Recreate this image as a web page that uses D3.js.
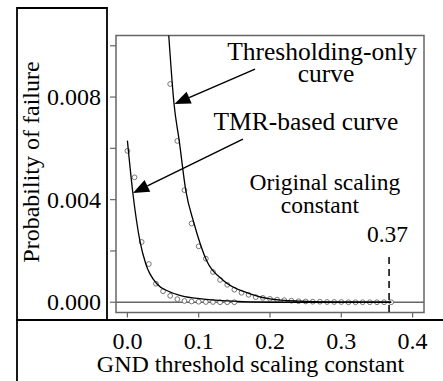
<!DOCTYPE html>
<html>
<head>
<meta charset="utf-8">
<script src="https://cdn.jsdelivr.net/npm/d3@7"></script>
<style>
  #chart text { font-family: "Liberation Serif", "Times New Roman", Times, serif !important; }
</style>
</head>
<body style="margin:0">
<svg id="chart" width="443" height="381"></svg>
<script>
// TMR-based points
const tmrX = [0.00, 0.01, 0.02, 0.03, 0.04, 0.05, 0.06, 0.07, 0.08, 0.09, 0.10, 0.11, 0.12, 0.13, 0.14, 0.15];
const tmrY = [0.0059, 0.00487, 0.00235, 0.00149, 0.00072, 0.00043, 0.00025, 0.00012, 0.00005, 0.00003,
  0.00002, 0.00001, 0.00001, 0.0, 0.0, 0.0];

// Thresholding-only points
const thrX = [0.06, 0.07, 0.08, 0.09, 0.10, 0.11, 0.12, 0.13, 0.14, 0.15, 0.16, 0.17, 0.18, 0.19, 0.20,
  0.21, 0.22, 0.23, 0.24, 0.25, 0.26, 0.27, 0.28, 0.29, 0.30, 0.31, 0.32, 0.33, 0.34, 0.35, 0.36, 0.37];
const thrY = [0.00851, 0.00629, 0.00437, 0.00307, 0.00218, 0.0017, 0.00118, 0.00087, 0.00068, 0.00049,
  0.00037, 0.00029, 0.0002, 0.00017, 0.00013, 0.0001, 0.00008, 0.00006, 0.00004, 0.00003, 0.00002,
  0.00002, 0.00001, 0.00001, 0.00001, 0.0, 0.0, 0.0, 0.0, 0.0, 0.0, 0.0];

// fitted curves
const tmrCurveX = [0.0, 0.0076, 0.0178, 0.0258, 0.0412, 0.0575, 0.0762, 0.104, 0.14, 0.2, 0.37];
const tmrCurveY = [0.0063, 0.00427, 0.00235, 0.00149, 0.00072, 0.00043, 0.00025, 0.00013, 0.00005, 0.0, 0.0];
const thrCurveX = [0.058, 0.0654, 0.0727, 0.0818, 0.0935, 0.111, 0.1346, 0.172, 0.2, 0.242, 0.3, 0.37];
const thrCurveY = [0.0104, 0.00773, 0.00629, 0.00437, 0.00307, 0.00163, 0.00085, 0.00033, 0.00013, 0.00004, 0.0, 0.0];

// axis ticks
const xTicks = [0.0, 0.1, 0.2, 0.3, 0.4];
const yTicks = [0.000, 0.002, 0.004, 0.006, 0.008, 0.010];
const yLabels = [0.000, 0.004, 0.008];
const originalConst = 0.367;

let svg = d3.select("#chart");

function label(sel, size) {
  return sel
    .attr("font-family", "Liberation Serif")
    .style("font-family", "'Liberation Serif'")
    .style("font-size", size + "px");
}

let box = { left: 116, top: 35.5, right: 424, bottom: 312.5 };

let x = d3.scaleLinear().domain([-0.016, 0.416]).range([box.left, box.right]);
let y = d3.scaleLinear().domain([-0.0004, 0.0104]).range([box.bottom, box.top]);

// labels first
label(svg.selectAll("text.ylab").data(yLabels).enter().append("text")
  .attr("class", "ylab")
  .attr("x", 101).attr("y", d => y(d) + 8), 24)
  .style("text-anchor", "end")
  .text(d => d3.format(".3f")(d));

label(svg.selectAll("text.xlab").data(xTicks).enter().append("text")
  .attr("class", "xlab")
  .attr("x", d => x(d)).attr("y", 349), 24)
  .style("text-anchor", "middle")
  .text(d => d3.format(".1f")(d));

label(svg.append("text")
  .attr("x", 250.5).attr("y", 372), 24)
  .style("text-anchor", "middle")
  .text("GND threshold scaling constant");

label(svg.append("text")
  .attr("transform", "translate(39,162) rotate(-90)"), 24)
  .style("text-anchor", "middle")
  .text("Probability of failure");

let notes = [
  { t: "Thresholding-only", x: 0.273, y: 0.00944, s: 25.5 },
  { t: "curve", x: 0.2785, y: 0.00858, s: 25.5 },
  { t: "TMR-based curve", x: 0.2504, y: 0.00671, s: 25.5 },
  { t: "Original scaling", x: 0.277, y: 0.00437, s: 23.5 },
  { t: "constant", x: 0.270, y: 0.00348, s: 23.5 },
  { t: "0.37", x: 0.3648, y: 0.00235, s: 23.5 }
];
notes.forEach(function (n) {
  label(svg.append("text")
    .attr("x", x(n.x)).attr("y", y(n.y)), n.s)
    .style("text-anchor", "middle")
    .text(n.t);
});

// outer frame lines
let frame = svg.append("g").attr("stroke", "#000").attr("stroke-width", 1.8).attr("fill", "none");
frame.append("path").attr("d", "M17,381 L17,8 L107,8 L107,320");
frame.append("path").attr("d", "M16,320 L443,320");

// plot box
svg.append("rect")
  .attr("x", box.left).attr("y", box.top)
  .attr("width", box.right - box.left).attr("height", box.bottom - box.top)
  .attr("fill", "none").attr("stroke", "#666").attr("stroke-width", 1.5);

// y ticks
svg.append("g").selectAll("line").data(yTicks).enter().append("line")
  .attr("x1", box.left - 6).attr("x2", box.left)
  .attr("y1", d => y(d)).attr("y2", d => y(d))
  .attr("stroke", "#666").attr("stroke-width", 1.2);

// x ticks
svg.append("g").selectAll("line").data(xTicks).enter().append("line")
  .attr("x1", d => x(d)).attr("x2", d => x(d))
  .attr("y1", box.bottom).attr("y2", box.bottom + 5)
  .attr("stroke", "#666").attr("stroke-width", 1.2);

// zero line
svg.append("line")
  .attr("x1", box.left).attr("x2", box.right)
  .attr("y1", y(0)).attr("y2", y(0))
  .attr("stroke", "#666").attr("stroke-width", 1.5);

// points
function drawPoints(xs, ys) {
  svg.append("g").selectAll("circle").data(xs).enter().append("circle")
    .attr("cx", d => x(d))
    .attr("cy", (d, i) => y(ys[i]))
    .attr("r", 2.4)
    .attr("fill", "#fff")
    .attr("stroke", "#666")
    .attr("stroke-width", 0.9);
}
drawPoints(thrX, thrY);
drawPoints(tmrX, tmrY);

// curves, cut at the top of the box
let line = d3.line().x(d => x(d[0])).y(d => y(d[1])).curve(d3.curveMonotoneX);
[[thrCurveX, thrCurveY], [tmrCurveX, tmrCurveY]].forEach(function (c) {
  svg.append("path")
    .attr("d", line(c[0].map((v, i) => [v, c[1][i]])))
    .attr("fill", "none").attr("stroke", "#000").attr("stroke-width", 1.3);
});

// dashed marker at original constant
svg.append("line")
  .attr("x1", x(originalConst)).attr("x2", x(originalConst))
  .attr("y1", y(0.00176)).attr("y2", box.bottom)
  .attr("stroke", "#000").attr("stroke-width", 1.5)
  .attr("stroke-dasharray", "7,5");

// arrows: shaft plus a filled head
let arrows = [
  { from: [0.179, 0.00909], to: [0.066, 0.00773] },
  { from: [0.162, 0.00636], to: [0.0079, 0.00426] }
];
arrows.forEach(function (a) {
  let x1 = x(a.from[0]), y1 = y(a.from[1]), x2 = x(a.to[0]), y2 = y(a.to[1]);
  let ang = Math.atan2(y2 - y1, x2 - x1);
  let len = 16, half = 6.5;
  let bx = x2 - len * Math.cos(ang), by = y2 - len * Math.sin(ang);
  svg.append("line")
    .attr("x1", x1).attr("y1", y1).attr("x2", bx).attr("y2", by)
    .attr("stroke", "#000").attr("stroke-width", 1.5);
  svg.append("path")
    .attr("d", "M" + x2 + "," + y2 +
      "L" + (bx - half * Math.sin(ang)) + "," + (by + half * Math.cos(ang)) +
      "L" + (bx + half * Math.sin(ang)) + "," + (by - half * Math.cos(ang)) + "Z")
    .attr("fill", "#000");
});
</script>
</body>
</html>
